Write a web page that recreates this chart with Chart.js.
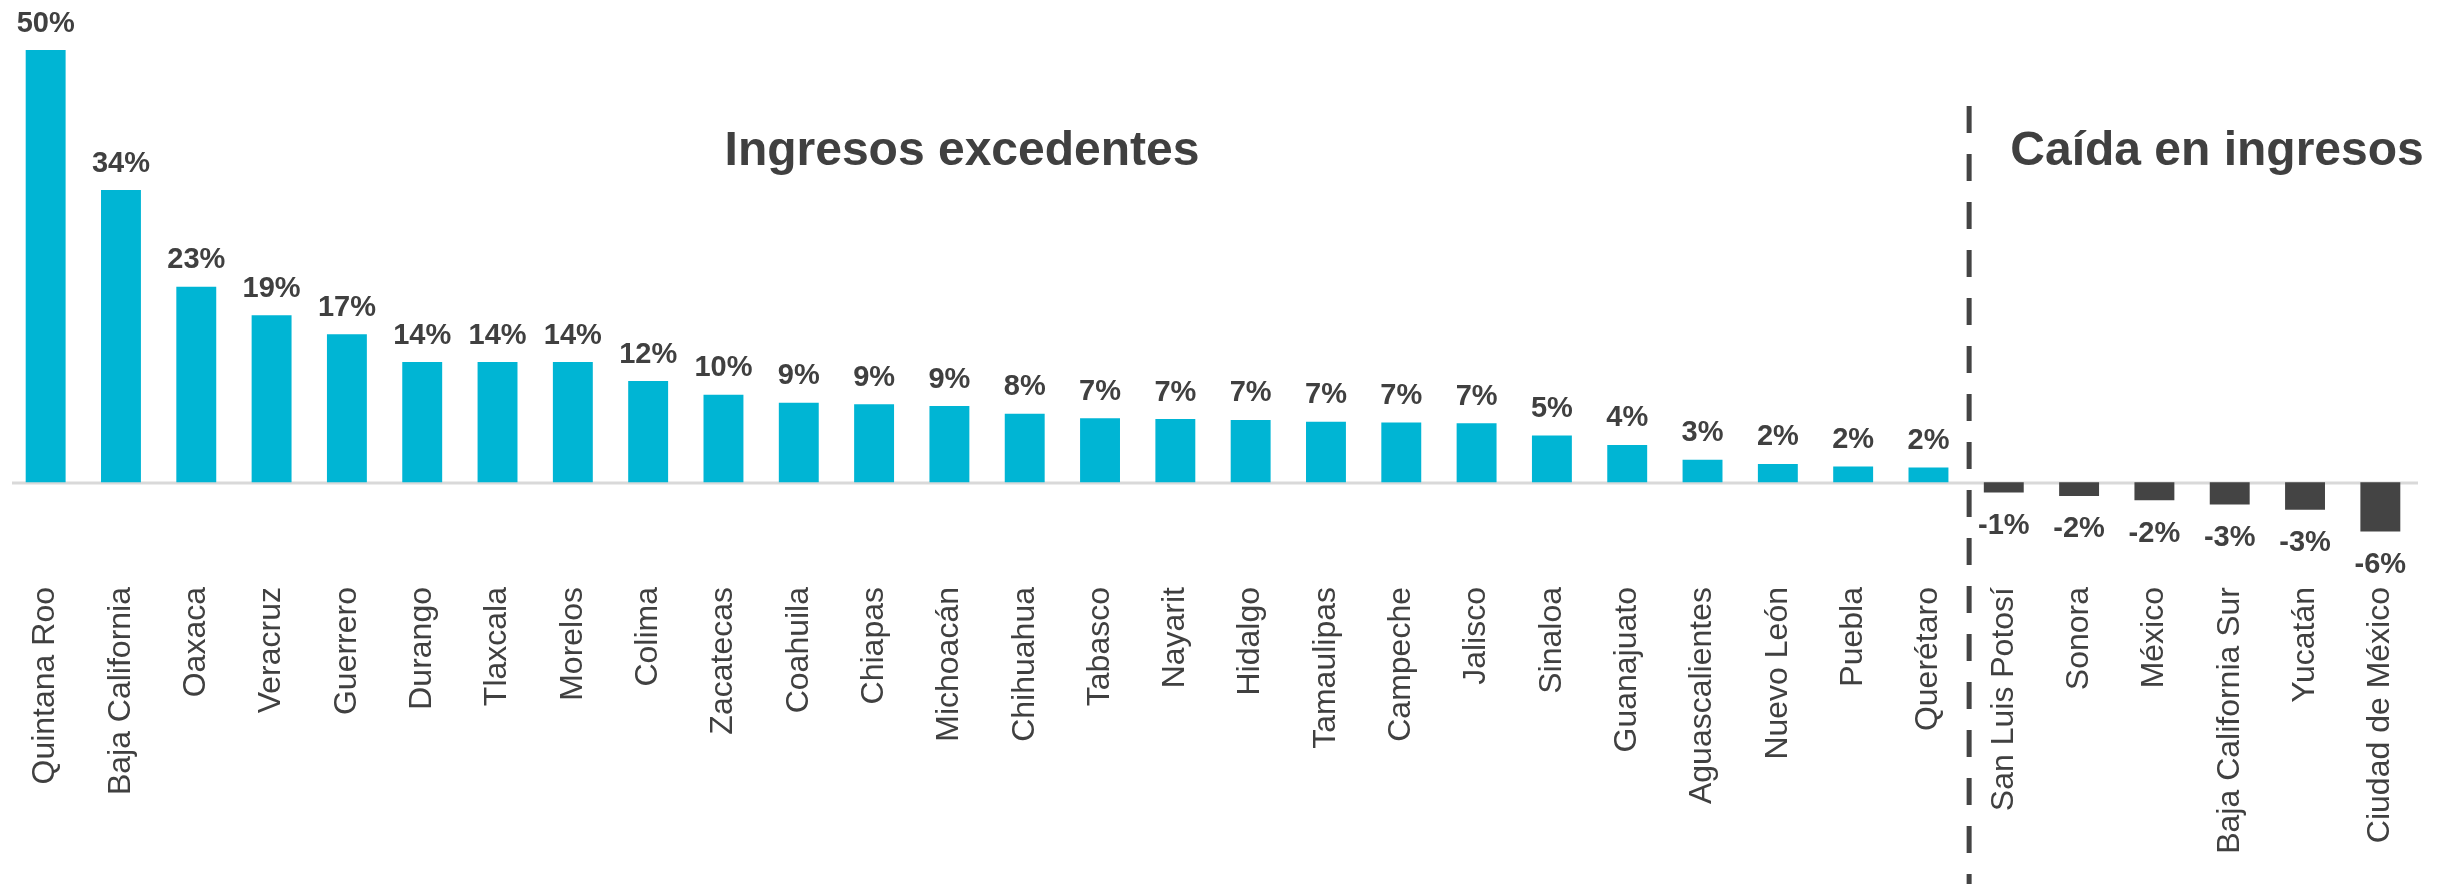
<!DOCTYPE html>
<html>
<head>
<meta charset="utf-8">
<script src="https://cdn.jsdelivr.net/npm/chart.js@4"></script>
<style>
  html, body { margin: 0; padding: 0; background: #fff; }
  #wrap { width: 2448px; height: 884px; }
</style>
</head>
<body>
<div id="wrap"><canvas id="ingresos" width="2448" height="884"></canvas></div>
<script>
var estados = ["Quintana Roo", "Baja California", "Oaxaca", "Veracruz", "Guerrero", "Durango", "Tlaxcala", "Morelos", "Colima", "Zacatecas", "Coahuila", "Chiapas", "Michoacán", "Chihuahua", "Tabasco", "Nayarit", "Hidalgo", "Tamaulipas", "Campeche", "Jalisco", "Sinaloa", "Guanajuato", "Aguascalientes", "Nuevo León", "Puebla", "Querétaro", "San Luis Potosí", "Sonora", "México", "Baja California Sur", "Yucatán", "Ciudad de México"];
var variacion = [50, 33.8, 22.6, 19.3, 17.1, 13.9, 13.9, 13.9, 11.7, 10.1, 9.2, 9.0, 8.8, 7.9, 7.4, 7.3, 7.2, 7.0, 6.9, 6.8, 5.4, 4.3, 2.6, 2.1, 1.8, 1.7, -1.2, -1.6, -2.1, -2.6, -3.2, -5.7];
var titulos = ["Ingresos excedentes", "Caída en ingresos"];
var yMin = -6, yMax = 50;

var TEXT = "#404040";
var FONT = "'Liberation Sans', Arial, sans-serif";

var extras = {
    id: "extras",
    beforeDatasetsDraw(chart) {
        const ctx = chart.ctx, y = chart.scales.y, a = chart.chartArea;
        const y0 = Math.round(y.getPixelForValue(0)) + 1;
        ctx.save();
        ctx.strokeStyle = "#d9d9d9";
        ctx.lineWidth = 3;
        ctx.beginPath();
        ctx.moveTo(a.left + 4, y0);
        ctx.lineTo(a.right, y0);
        ctx.stroke();
        ctx.restore();
    },
    afterDatasetsDraw(chart) {
        const ctx = chart.ctx, x = chart.scales.x;
        const meta = chart.getDatasetMeta(0);
        ctx.save();
        // data labels
        ctx.fillStyle = TEXT;
        ctx.font = "bold 29px " + FONT;
        ctx.textAlign = "center";
        meta.data.forEach((bar, i) => {
            const v = variacion[i];
            const txt = Math.round(v) + "%";
            if (v >= 0) {
                ctx.textBaseline = "bottom";
                ctx.fillText(txt, bar.x, bar.y - 12);
            } else {
                ctx.textBaseline = "top";
                ctx.fillText(txt, bar.x, bar.y + 19);
            }
        });
        // divider between gains and losses
        const split = variacion.findIndex((v) => v < 0);
        const xs = (x.getPixelForValue(split - 1) + x.getPixelForValue(split)) / 2 + 3;
        ctx.strokeStyle = "#444444";
        ctx.lineWidth = 5;
        ctx.setLineDash([27, 21]);
        ctx.beginPath();
        ctx.moveTo(xs, 106);
        ctx.lineTo(xs, 884);
        ctx.stroke();
        ctx.setLineDash([]);
        // section titles
        ctx.font = "bold 48px " + FONT;
        ctx.textBaseline = "middle";
        ctx.fillText(titulos[0], 962, 152);
        ctx.fillText(titulos[1], 2217, 152);
        ctx.restore();
    }
};

new Chart(document.getElementById("ingresos").getContext("2d"), {
    type: "bar",
    data: {
        labels: estados,
        datasets: [{
            data: variacion,
            backgroundColor: variacion.map((v) => v >= 0 ? "#00b5d4" : "#444444"),
            borderWidth: 0,
            categoryPercentage: 1,
            barPercentage: 0.53,
        }],
    },
    options: {
        responsive: false,
        animation: false,
        devicePixelRatio: 1,
        layout: { padding: { left: 8, right: 30, top: 50, bottom: 0 } },
        plugins: { legend: { display: false }, tooltip: { enabled: false } },
        scales: {
            x: {
                grid: { display: false, drawTicks: false },
                border: { display: false },
                ticks: {
                    color: TEXT,
                    font: { family: FONT, size: 32 },
                    minRotation: 90,
                    maxRotation: 90,
                    autoSkip: false,
                    padding: 53,
                },
                afterFit(scale) {
                    scale.height = 350;
                    scale.paddingLeft = 0;
                    scale.paddingRight = 0;
                },
            },
            y: {
                display: false,
                min: yMin,
                max: yMax,
            },
        },
    },
    plugins: [extras],
});
</script>
</body>
</html>
